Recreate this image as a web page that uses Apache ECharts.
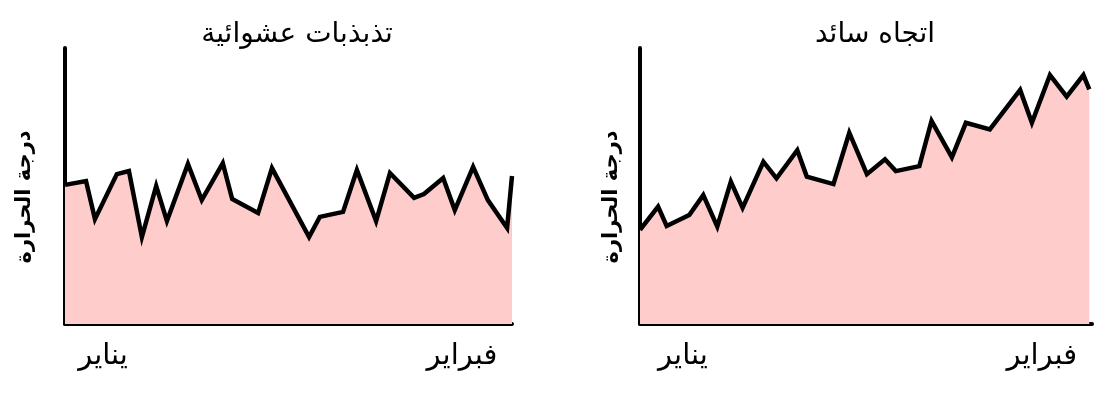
<!DOCTYPE html>
<html><head><meta charset="utf-8">
<script src="https://cdn.jsdelivr.net/npm/echarts@6/dist/echarts.min.js"></script>
<style>html,body{margin:0;padding:0;background:#fff}#c{width:1118px;height:403px}</style>
</head><body><div id="c"></div>
<script>
// Panel titles and labels
const titles = ['تذبذبات عشوائية', 'اتجاه سائد'];
const yAxisName = 'درجة الحرارة';
const monthLabels = ['يناير', 'فبراير'];
const monthTickPositionsLeft = [8.5, 88.8];
const monthTickPositionsRight = [9.5, 88.9];

// Left panel: random fluctuations (x: 0-100 time, y: 0-100 temperature)
const randomX = [0,4.7,6.7,11.6,14.3,17.2,20.4,22.8,27.5,30.6,35.3,37.4,43.2,46.3,54.6,57.0,62.2,65.3,69.6,72.7,78.1,80.3,84.6,87.2,91.3,94.6,98.9,100];
const randomY = [50.4,51.8,38.0,54.3,55.4,31.5,50.0,37.3,58.0,44.9,58.3,45.3,40.2,56.5,31.5,38.8,40.6,55.8,37.3,54.7,45.7,47.1,52.9,41.3,56.9,44.9,34.8,53.6];

// Right panel: prevailing trend
const trendX = [0,4.0,5.9,10.9,14.0,17.1,20.1,22.7,27.3,30.2,34.8,36.9,42.8,46.3,50.2,54.2,56.6,61.8,64.5,69.0,72.1,77.4,84.1,86.7,90.7,94.4,98.1,99.4];
const trendY = [34.1,42.5,35.5,39.5,46.7,35.3,51.6,42.1,58.8,52.8,63.0,53.4,50.7,69.3,54.3,59.7,55.4,57.2,73.6,60.4,72.9,70.5,84.8,72.9,90.2,82.4,90.2,85.0];

const FONT = "'DejaVu Sans', 'Liberation Sans', sans-serif";
const pair = (xs, ys) => xs.map((x, i) => [x, ys[i]]);

const grids = [
  {left: 65, top: 48, width: 447, height: 276},
  {left: 640, top: 48, width: 452, height: 276}
];

function xAxis(i, ticks) {
  return {
    type: 'value', gridIndex: i, min: 0, max: 100,
    axisLine: {show: true, lineStyle: {color: '#000', width: 4}},
    axisTick: {show: false},
    splitLine: {show: false},
    axisLabel: {
      show: true, customValues: ticks, margin: 18,
      color: '#000', fontSize: 29, fontFamily: FONT,
      formatter: v => monthLabels[ticks.indexOf(v)]
    }
  };
}
function yAxis(i) {
  return {
    type: 'value', gridIndex: i, min: 0, max: 100,
    axisLine: {show: true, lineStyle: {color: '#000', width: 4}},
    axisTick: {show: false}, axisLabel: {show: false}, splitLine: {show: false}
  };
}
function series(i, data) {
  return {
    type: 'line', xAxisIndex: i, yAxisIndex: i, data: data,
    symbol: 'none', smooth: false, z: 1,
    lineStyle: {color: '#000', width: 4.5, join: 'miter'},
    areaStyle: {color: '#FFCCCC', opacity: 1}
  };
}

const chart = echarts.init(document.getElementById('c'), null, {renderer: 'canvas'});
chart.setOption({
  animation: false,
  backgroundColor: '#fff',
  title: [
    {text: titles[0], left: 292, top: 16, textAlign: 'center',
     textStyle: {fontSize: 28, fontWeight: 'normal', color: '#000', fontFamily: FONT}},
    {text: titles[1], left: 870, top: 16, textAlign: 'center',
     textStyle: {fontSize: 28, fontWeight: 'normal', color: '#000', fontFamily: FONT}}
  ],
  grid: grids,
  xAxis: [xAxis(0, monthTickPositionsLeft), xAxis(1, monthTickPositionsRight)],
  yAxis: [yAxis(0), yAxis(1)],
  series: [series(0, pair(randomX, randomY)), series(1, pair(trendX, trendY))],
  graphic: [
    {type: 'text', x: 25, y: 197, rotation: Math.PI / 2,
     style: {text: yAxisName, fill: '#000', font: 'bold 21px ' + FONT, align: 'center', verticalAlign: 'middle'}},
    {type: 'text', x: 612, y: 197, rotation: Math.PI / 2,
     style: {text: yAxisName, fill: '#000', font: 'bold 21px ' + FONT, align: 'center', verticalAlign: 'middle'}}
  ]
});
</script></body></html>
